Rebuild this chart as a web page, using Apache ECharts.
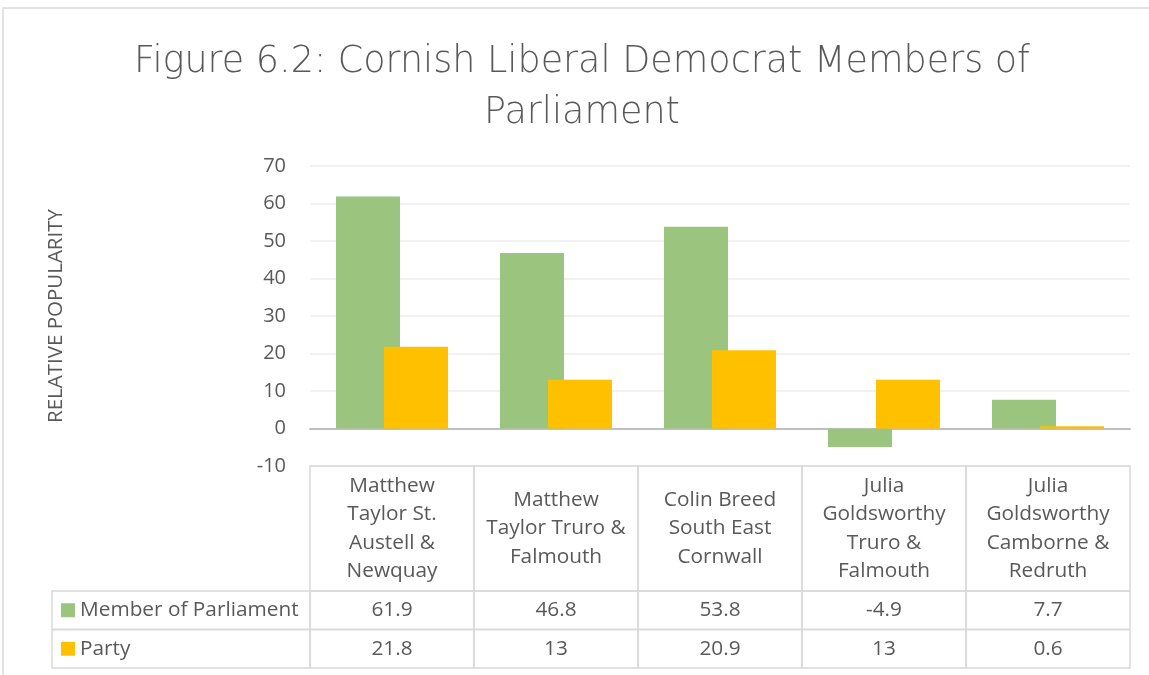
<!DOCTYPE html>
<html>
<head>
<meta charset="utf-8">
<script src="https://cdn.jsdelivr.net/npm/echarts@6/dist/echarts.min.js"></script>
<style>
  html, body { margin: 0; padding: 0; background: #fff; }
  #chart { width: 1149px; height: 675px; }
</style>
</head>
<body>
<div id="chart"></div>
<script>
const titleText = 'Figure 6.2: Cornish Liberal Democrat Members of\nParliament';
const yAxisTitle = 'RELATIVE POPULARITY';
const categories = [
  'Matthew\nTaylor St.\nAustell &\nNewquay',
  'Matthew\nTaylor Truro &\nFalmouth',
  'Colin Breed\nSouth East\nCornwall',
  'Julia\nGoldsworthy\nTruro &\nFalmouth',
  'Julia\nGoldsworthy\nCamborne &\nRedruth'
];
const seriesNames = ['Member of Parliament', 'Party'];
const mpValues = [61.9, 46.8, 53.8, -4.9, 7.7];
const partyValues = [21.8, 13, 20.9, 13, 0.6];
const yMin = -10, yMax = 70, yStep = 10;

const FONT = '"Open Sans"';
const TXT = '#595959';
const LINE = '#D9D9D9';
const colors = ['#9BC57E', '#FFC000'];
const allValues = [mpValues, partyValues];

// table layout (pixels relative to the axis bottom)
const headerH = 125, rowH = 38.5, legendLeft = 52;
const tableFont = '20.8px ' + FONT;

const chart = echarts.init(document.getElementById('chart'));

function renderTable(params, api) {
  const i = api.value(0);
  const pt = api.coord([i, yMin]);
  const bw = api.size([1, 0])[0];
  const x0 = pt[0] - bw / 2, y0 = pt[1];
  const ls = { stroke: LINE, lineWidth: 1.5, fill: null };
  const children = [];
  children.push({ type: 'rect', shape: { x: x0, y: y0, width: bw, height: headerH }, style: ls });
  children.push({ type: 'text', x: pt[0], y: y0 + headerH / 2, style: {
    text: categories[i], fill: TXT, font: tableFont, align: 'center', verticalAlign: 'middle', lineHeight: 28.5 } });
  for (let r = 0; r < 2; r++) {
    const yy = y0 + headerH + r * rowH;
    children.push({ type: 'rect', shape: { x: x0, y: yy, width: bw, height: rowH }, style: ls });
    children.push({ type: 'text', x: pt[0], y: yy + rowH / 2, style: {
      text: String(allValues[r][i]), fill: TXT, font: tableFont, align: 'center', verticalAlign: 'middle' } });
    if (i === 0) {
      children.push({ type: 'rect', shape: { x: legendLeft, y: yy, width: x0 - legendLeft, height: rowH }, style: ls });
      children.push({ type: 'rect', shape: { x: legendLeft + 9, y: yy + rowH / 2 - 7, width: 14, height: 14 }, style: { fill: colors[r] } });
      children.push({ type: 'text', x: legendLeft + 28, y: yy + rowH / 2, style: {
        text: seriesNames[r], fill: TXT, font: tableFont, align: 'left', verticalAlign: 'middle' } });
    }
  }
  return { type: 'group', children: children };
}

chart.setOption({
  backgroundColor: '#fff',
  animation: false,
  title: {
    text: titleText, left: 577, textAlign: 'center', top: 32,
    textStyle: { fontFamily: '"DejaVu Sans"', fontWeight: 200, fontSize: 36.5, color: TXT, lineHeight: 51 }
  },
  graphic: [{
    type: 'rect', shape: { x: 3, y: 8, width: 1170, height: 700 },
    style: { fill: null, stroke: LINE, lineWidth: 1.5 }, silent: true
  }],
  grid: { left: 310, right: 19, top: 166, bottom: 209, containLabel: false },
  xAxis: {
    type: 'category', data: categories,
    axisLine: { show: true, onZero: true, lineStyle: { color: '#BFBFBF', width: 2 } },
    axisTick: { show: false }, axisLabel: { show: false }, splitLine: { show: false }
  },
  yAxis: {
    type: 'value', min: yMin, max: yMax, interval: yStep,
    name: yAxisTitle, nameLocation: 'middle', nameRotate: 90, nameGap: 243,
    nameTextStyle: { fontFamily: FONT, fontSize: 20.5, color: TXT },
    axisLine: { show: false }, axisTick: { show: false },
    axisLabel: { fontFamily: FONT, fontSize: 20, color: TXT, margin: 24 },
    splitLine: { lineStyle: { color: '#ECECEC', width: 1.5 } }
  },
  series: [
    { name: seriesNames[0], type: 'bar', data: mpValues, barWidth: 64, barGap: '-25%',
      itemStyle: { color: colors[0] }, silent: true },
    { name: seriesNames[1], type: 'bar', data: partyValues, barWidth: 64, barGap: '-25%',
      itemStyle: { color: colors[1] }, silent: true },
    { type: 'custom', data: categories.map((c, i) => [i, yMin]), encode: { x: 0, y: 1 },
      renderItem: renderTable, silent: true, clip: false, z: 1 }
  ]
});
</script>
</body>
</html>
